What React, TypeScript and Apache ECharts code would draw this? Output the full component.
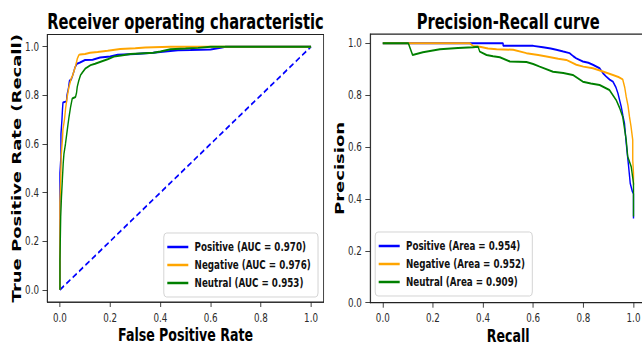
import React, { useEffect, useRef } from 'react';
import * as echarts from 'echarts';

// The reference figure is horizontally squashed; draw wide, then compress.
const SCALE_X = 0.7;
const VIEW_W = 642;
const VIEW_H = 345;
const CANVAS_W = Math.round(VIEW_W / SCALE_X);

const FONT = 'DejaVu Sans';

const tickValues = [0, 0.2, 0.4, 0.6, 0.8, 1.0];

const rocTitle = 'Receiver operating characteristic';
const prTitle = 'Precision-Recall curve';

const rocNames = ['Positive (AUC = 0.970)', 'Negative (AUC = 0.976)', 'Neutral (AUC = 0.953)'];
const prNames = ['Positive (Area = 0.954)', 'Negative (Area = 0.952)', 'Neutral (Area = 0.909)'];
const classColors = ['#0000ff', '#ffa500', '#008000'];

const chanceLine = [[0, 0], [1, 1]];

const rocPositive = [
  [0, 0], [0, 0.48], [0.004, 0.55], [0.004, 0.64], [0.008, 0.7], [0.01, 0.74], [0.012, 0.77],
  [0.026, 0.775], [0.028, 0.8], [0.034, 0.83], [0.038, 0.86], [0.045, 0.865], [0.05, 0.88],
  [0.056, 0.9], [0.06, 0.915], [0.068, 0.93], [0.08, 0.935], [0.1, 0.945], [0.13, 0.946],
  [0.16, 0.955], [0.2, 0.96], [0.23, 0.967], [0.3, 0.97], [0.37, 0.975], [0.42, 0.98],
  [0.47, 0.985], [0.52, 0.986], [0.6, 0.988], [0.64, 0.995], [0.66, 1.0], [1, 1],
];

const rocNegative = [
  [0, 0], [0, 0.36], [0.003, 0.45], [0.005, 0.55], [0.01, 0.62], [0.012, 0.66], [0.018, 0.7],
  [0.023, 0.75], [0.03, 0.8], [0.036, 0.835], [0.045, 0.87], [0.05, 0.88], [0.056, 0.9],
  [0.062, 0.92], [0.069, 0.95], [0.075, 0.965], [0.08, 0.968], [0.1, 0.97], [0.12, 0.975],
  [0.15, 0.978], [0.19, 0.983], [0.24, 0.99], [0.3, 0.993], [0.34, 0.997], [0.44, 1.0], [1, 1],
];

const rocNeutral = [
  [0, 0], [0, 0.12], [0.003, 0.3], [0.006, 0.38], [0.0095, 0.45], [0.013, 0.52], [0.016, 0.56],
  [0.022, 0.6], [0.027, 0.64], [0.032, 0.68], [0.036, 0.71], [0.042, 0.75], [0.049, 0.787],
  [0.062, 0.793], [0.066, 0.81], [0.069, 0.835], [0.075, 0.86], [0.082, 0.883], [0.09, 0.895],
  [0.102, 0.911], [0.122, 0.924], [0.14, 0.93], [0.162, 0.938], [0.19, 0.948], [0.215, 0.959],
  [0.25, 0.965], [0.281, 0.97], [0.373, 0.975], [0.4, 0.98], [0.44, 0.989], [0.5, 0.992],
  [0.55, 0.995], [0.6, 1.0], [1, 1],
];

const prPositive = [
  [0, 1], [0.48, 1], [0.48, 0.99], [0.6, 0.99], [0.639, 0.985], [0.67, 0.98], [0.692, 0.975],
  [0.72, 0.968], [0.745, 0.962], [0.76, 0.95], [0.772, 0.942], [0.798, 0.93], [0.82, 0.925],
  [0.838, 0.917], [0.865, 0.904], [0.878, 0.885], [0.891, 0.872], [0.905, 0.86], [0.918, 0.852],
  [0.93, 0.83], [0.938, 0.807], [0.951, 0.756], [0.958, 0.72], [0.964, 0.692], [0.971, 0.615],
  [0.977, 0.557], [0.98, 0.53], [0.987, 0.46], [0.995, 0.43], [1, 0.42], [1, 0.325],
];

const prNegative = [
  [0, 1], [0.347, 1], [0.36, 0.99], [0.387, 0.987], [0.42, 0.98], [0.454, 0.977], [0.52, 0.975],
  [0.573, 0.962], [0.62, 0.955], [0.653, 0.949], [0.7, 0.94], [0.732, 0.936], [0.772, 0.917],
  [0.8, 0.91], [0.838, 0.904], [0.878, 0.891], [0.918, 0.878], [0.94, 0.87], [0.957, 0.861],
  [0.965, 0.83], [0.971, 0.794], [0.978, 0.76], [0.984, 0.717], [0.99, 0.68], [0.997, 0.627],
  [0.997, 0.55], [1, 0.5], [1, 0.455],
];

const prNeutral = [
  [0, 1], [0.102, 1], [0.119, 0.955], [0.16, 0.965], [0.228, 0.977], [0.3, 0.982], [0.36, 0.985],
  [0.38, 0.987], [0.387, 0.968], [0.414, 0.955], [0.44, 0.95], [0.467, 0.946], [0.507, 0.93],
  [0.573, 0.928], [0.6, 0.92], [0.626, 0.91], [0.679, 0.89], [0.72, 0.885], [0.758, 0.878],
  [0.798, 0.852], [0.83, 0.845], [0.865, 0.839], [0.904, 0.82], [0.931, 0.781], [0.945, 0.75],
  [0.957, 0.717], [0.971, 0.627], [0.977, 0.563], [0.991, 0.524], [1, 0.46], [1, 0.332],
];

const rocData = [rocPositive, rocNegative, rocNeutral];
const prData = [prPositive, prNegative, prNeutral];

const AXIS_COLOR = '#222';

function makeXAxis(gridIndex: number, name: string) {
  return {
    type: 'value',
    gridIndex,
    min: -0.05,
    max: 1.05,
    name,
    nameLocation: 'middle',
    nameGap: 24,
    nameMoveOverlap: false,
    nameTextStyle: { fontFamily: FONT, fontSize: 18, lineHeight: 18, fontWeight: 'bold', color: '#000' },
    axisLine: { show: true, onZero: false, lineStyle: { color: AXIS_COLOR, width: 1 } },
    axisTick: { show: true, inside: false, length: 5, customValues: tickValues, lineStyle: { color: AXIS_COLOR } },
    axisLabel: {
      show: true,
      customValues: tickValues,
      margin: 9,
      fontFamily: FONT,
      fontSize: 12.5,
      lineHeight: 13,
      color: '#2a2a2a',
      formatter: (v: number) => v.toFixed(1),
    },
    splitLine: { show: false },
  };
}

function makeYAxis(gridIndex: number, name: string, min: number, max: number) {
  return {
    type: 'value',
    gridIndex,
    min,
    max,
    name,
    nameLocation: 'middle',
    nameGap: 34,
    nameMoveOverlap: false,
    nameTextStyle: { fontFamily: FONT, fontSize: 18, fontWeight: 'bold', color: '#000' },
    axisLine: { show: true, onZero: false, lineStyle: { color: AXIS_COLOR, width: 1.2 } },
    axisTick: { show: true, inside: false, length: 7, customValues: tickValues, lineStyle: { color: AXIS_COLOR } },
    axisLabel: {
      show: true,
      customValues: tickValues,
      margin: 12,
      fontFamily: FONT,
      fontSize: 12.5,
      color: '#2a2a2a',
      formatter: (v: number) => v.toFixed(1),
    },
    splitLine: { show: false },
  };
}

function makeLegend(names: string[], left: number, top: number) {
  return {
    data: names,
    orient: 'vertical',
    left,
    top,
    icon: 'rect',
    itemWidth: 30,
    itemHeight: 2.5,
    itemGap: 4,
    padding: [7, 10, 7, 5],
    backgroundColor: '#fff',
    borderColor: '#ccc',
    borderWidth: 1,
    borderRadius: 4,
    selectedMode: false,
    textStyle: {
      fontFamily: FONT,
      fontSize: 12.5,
      fontWeight: 'bold',
      color: '#111',
      lineHeight: 14,
      padding: [0, 0, 0, 4],
    },
  };
}

function titleText(text: string, x: number) {
  return {
    type: 'text',
    x,
    y: 21,
    style: {
      text,
      fontFamily: FONT,
      fontSize: 21,
      fontWeight: 'bold',
      fill: '#000',
      align: 'center',
      textAlign: 'center',
      verticalAlign: 'middle',
      textVerticalAlign: 'middle',
    },
  };
}

export default function App() {
  const ref = useRef<HTMLDivElement>(null);

  useEffect(() => {
    if (!ref.current) return;
    const chart = echarts.init(ref.current, undefined, { renderer: 'svg', width: CANVAS_W, height: VIEW_H });

    const curveSeries = (names: string[], data: number[][][], axisIndex: number) =>
      names.map((name, i) => ({
        name,
        type: 'line',
        xAxisIndex: axisIndex,
        yAxisIndex: axisIndex,
        data: data[i],
        symbol: 'none',
        showSymbol: false,
        color: classColors[i],
        lineStyle: { color: classColors[i], width: 2 },
        z: 3 + i,
      }));

    const gridBase = {
      show: true,
      borderColor: AXIS_COLOR,
      borderWidth: 1.2,
      backgroundColor: 'transparent',
      containLabel: false,
      outerBoundsMode: 'none',
    };

    const option = {
      animation: false,
      backgroundColor: '#fff',
      grid: [
        { ...gridBase, left: 67.7, top: 34.5, width: 394.6, height: 267.5 },
        { ...gridBase, left: 528.9, top: 34.2, width: 394, height: 268.5 },
      ],
      graphic: [titleText(rocTitle, 265), titleText(prTitle, 726)],
      xAxis: [makeXAxis(0, 'False Positive Rate'), makeXAxis(1, 'Recall')],
      yAxis: [
        makeYAxis(0, 'True Positive Rate (Recall)', -0.05, 1.05),
        makeYAxis(1, 'Precision', 0, 1.035),
      ],
      legend: [makeLegend(rocNames, 234, 233), makeLegend(prNames, 536, 232)],
      series: [
        {
          name: 'chance',
          type: 'line',
          xAxisIndex: 0,
          yAxisIndex: 0,
          data: chanceLine,
          symbol: 'none',
          color: '#0000ff',
          lineStyle: { color: '#0000ff', width: 2, type: [7, 4] },
          z: 2,
        },
        ...curveSeries(rocNames, rocData, 0),
        ...curveSeries(prNames, prData, 1),
      ],
    };

    chart.setOption(option as any);
    return () => chart.dispose();
  }, []);

  return (
    <div
      style={{
        position: 'fixed',
        left: 0,
        top: 0,
        width: VIEW_W,
        height: VIEW_H,
        overflow: 'hidden',
        background: '#fff',
      }}
    >
      <div
        ref={ref}
        style={{
          width: CANVAS_W,
          height: VIEW_H,
          transform: `scaleX(${SCALE_X})`,
          transformOrigin: '0 0',
        }}
      />
    </div>
  );
}
